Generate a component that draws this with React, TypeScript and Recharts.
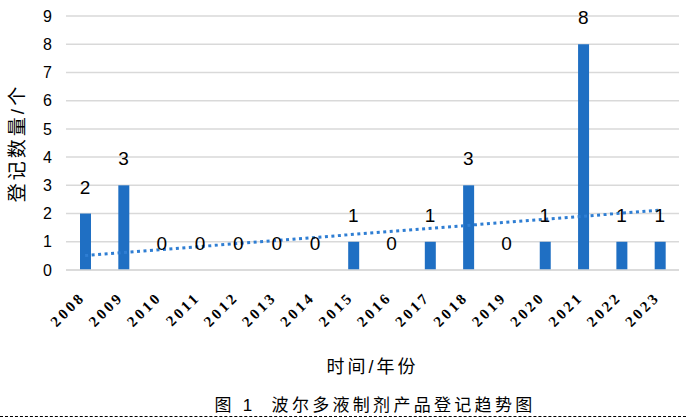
import { ComposedChart, Bar, Line, XAxis, YAxis, CartesianGrid, LabelList, Label } from "recharts"

const years = ["2008", "2009", "2010", "2011", "2012", "2013", "2014", "2015", "2016", "2017", "2018", "2019", "2020", "2021", "2022", "2023"]
const counts = [2, 3, 0, 0, 0, 0, 0, 1, 0, 1, 3, 0, 1, 8, 1, 1]
// linear trendline, ends
const trendStart = 0.51
const trendEnd = 2.12
const yTicks = [0, 1, 2, 3, 4, 5, 6, 7, 8, 9]

const data = years.map((year, i) => ({
  year,
  count: counts[i],
  trend: i === 0 ? trendStart : i === years.length - 1 ? trendEnd : null,
}))

const font = '"Liberation Sans", "Noto Sans CJK SC", sans-serif'

const YearTick = (props: any) => {
  const { x, y, payload } = props
  const ax = x + 1
  const ay = y + 20
  return (
    <text
      x={ax}
      y={ay}
      transform={`rotate(-45 ${ax} ${ay})`}
      textAnchor="end"
      fontSize={15}
      fontWeight="bold"
      letterSpacing={3}
      fontFamily='"Liberation Serif", serif'
      fill="#000"
    >
      {payload.value}
    </text>
  )
}

export default function App() {
  return (
    <div style={{ position: "absolute", left: 0, top: 0, width: 686, height: 418, background: "#fff", fontFamily: font }}>
      <ComposedChart
        width={686}
        height={418}
        data={data}
        margin={{ top: 16, right: 7, left: 0, bottom: 48 }}
      >
        <CartesianGrid vertical={false} stroke="#d9d9d9" strokeWidth={1.5} />
        <XAxis
          dataKey="year"
          interval={0}
          tickLine={false}
          axisLine={{ stroke: "#d9d9d9", strokeWidth: 1.5 }}
          height={100}
          tick={<YearTick />}
        >
          <Label value="时间/年份" position="insideBottom" offset={-3} fontSize={18} fill="#000" fontFamily={font} letterSpacing={3} />
        </XAxis>
        <YAxis
          domain={[0, 9]}
          ticks={yTicks}
          interval={0}
          width={66}
          tickLine={false}
          axisLine={false}
          tickSize={0}
          tickMargin={14}
          tick={{ fontSize: 16, fill: "#000", fontFamily: font }}
        >
          <Label value="登记数量/个" angle={-90} position="insideLeft" offset={17} textAnchor="middle" fontSize={19} fill="#000" fontFamily={font} letterSpacing={3} />
        </YAxis>
        <Line
          dataKey="trend"
          connectNulls
          stroke="#2F7ED3"
          strokeWidth={3}
          strokeDasharray="3 3.5"
          dot={false}
          activeDot={false}
          isAnimationActive={false}
        />
        <Bar dataKey="count" fill="#1F6FC3" barSize={11} isAnimationActive={false} />
        {/* invisible line only to carry the value labels (zeros included) */}
        <Line dataKey="count" stroke="none" dot={false} activeDot={false} isAnimationActive={false}>
          <LabelList dataKey="count" position="top" offset={20} fontSize={19} fill="#000" fontFamily={font} />
        </Line>
      </ComposedChart>
      <div
        style={{
          position: "absolute",
          left: 0,
          top: 396,
          width: 686,
          textAlign: "center",
          fontSize: 17,
          letterSpacing: 3.3,
          color: "#000",
          lineHeight: "20px",
          paddingLeft: 64,
          boxSizing: "border-box",
        }}
      >
        图 1 &nbsp;波尔多液制剂产品登记趋势图
      </div>
      <div style={{ position: "absolute", left: 0, top: 416, width: 686, borderTop: "1px dashed #000" }} />
    </div>
  )
}
